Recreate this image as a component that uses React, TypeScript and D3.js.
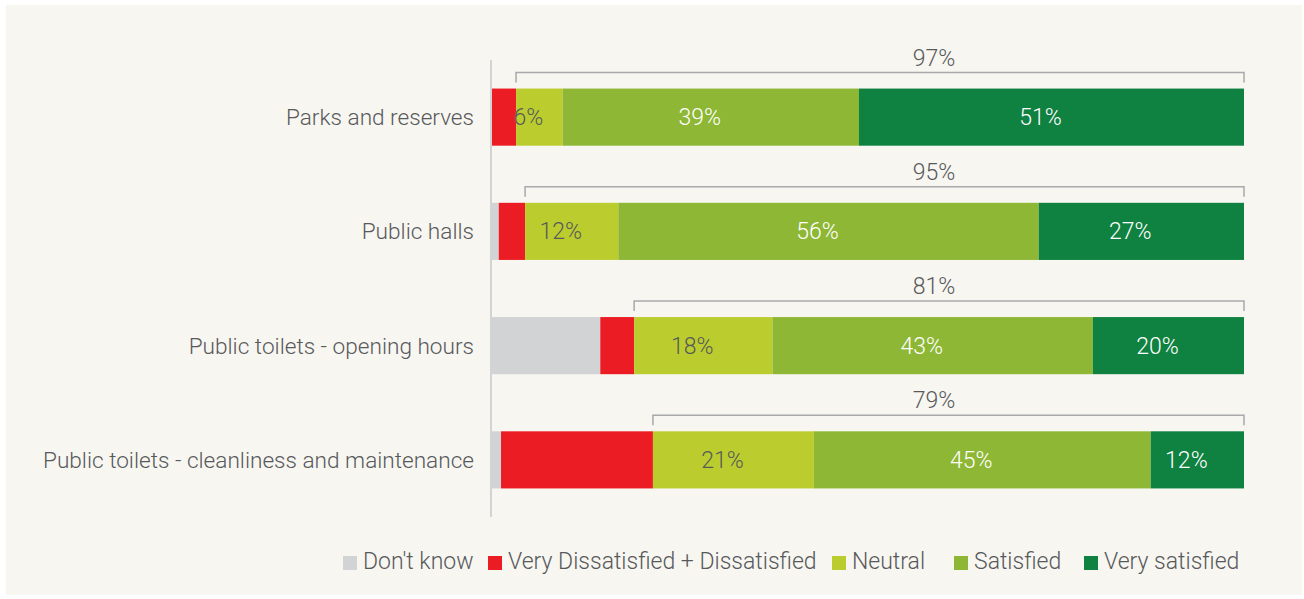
import React, { useEffect, useRef } from "react";
import * as d3 from "d3";

const categories = [
  "Parks and reserves",
  "Public halls",
  "Public toilets - opening hours",
  "Public toilets - cleanliness and maintenance",
];
const seriesNames = ["Don't know", "Very Dissatisfied + Dissatisfied", "Neutral", "Satisfied", "Very satisfied"];
const dontKnow = [0, 0.9, 14.4, 1.2];
const dissatisfied = [3.2, 3.5, 4.5, 20.2];
const neutral = [6.2, 12.4, 18.4, 21.4];
const satisfied = [39.4, 55.9, 42.6, 44.8];
const verySatisfied = [51.2, 27.3, 20.1, 12.4];
const netSatisfied = [97, 95, 81, 79];

const colors = ["#d1d3d4", "#ec1c24", "#bbcd2e", "#8db734", "#0f8140"];
const labelColors = [null, null, "#58595b", "#ffffff", "#ffffff"];
const legendX = [343, 488, 832, 954, 1084];
const FONT = "Roboto, 'Open Sans', sans-serif";
const TEXT = "#58595b";

export default function App() {
  const ref = useRef<SVGSVGElement | null>(null);

  useEffect(() => {
    const svg = d3.select(ref.current);
    svg.selectAll("*").remove();
    const W = 1304, H = 599;

    svg.append("rect").attr("x", 0).attr("y", 0).attr("width", W).attr("height", H).attr("fill", "#ffffff");
    svg.append("rect").attr("x", 6).attr("y", 5).attr("width", 1296).attr("height", 590).attr("fill", "#f7f6f1");

    const x = d3.scaleLinear().domain([0, 100]).range([492, 1244]);
    const y = d3.scaleBand<string>().domain(categories).range([60, 517]).paddingInner(0.5).paddingOuter(0.25);

    const series = [dontKnow, dissatisfied, neutral, satisfied, verySatisfied];
    const rows = categories.map((c, i) => {
      const r: any = { cat: c };
      seriesNames.forEach((s, k) => (r[s] = series[k][i]));
      return r;
    });
    const stacked = d3.stack<any>().keys(seriesNames)(rows);

    const g = svg.append("g");
    stacked.forEach((layer, k) => {
      g.selectAll(null)
        .data(layer)
        .enter()
        .append("rect")
        .attr("x", (d) => x(d[0]))
        .attr("y", (d) => y(d.data.cat)!)
        .attr("width", (d) => Math.max(0, x(d[1]) - x(d[0])))
        .attr("height", y.bandwidth())
        .attr("fill", colors[k]);
      if (labelColors[k]) {
        g.selectAll(null)
          .data(layer)
          .enter()
          .append("text")
          .attr("x", (d) => (x(d[0]) + x(d[1])) / 2 - 11)
          .attr("y", (d) => y(d.data.cat)! + y.bandwidth() / 2)
          .attr("dy", "0.35em")
          .attr("text-anchor", "middle")
          .attr("font-family", FONT)
          .attr("font-weight", 300)
          .attr("font-size", 23)
          .attr("fill", labelColors[k] as string)
          .text((d) => `${Math.round((d[1] - d[0]) + 1e-9)}%`);
      }
    });

    // axis line
    svg.append("line").attr("x1", 491).attr("x2", 491).attr("y1", 60).attr("y2", 517)
      .attr("stroke", "#d1d3d4").attr("stroke-width", 2);

    // category labels
    svg.selectAll(null).data(categories).enter().append("text")
      .attr("x", 474)
      .attr("y", (d) => y(d)! + y.bandwidth() / 2)
      .attr("dy", "0.35em")
      .attr("text-anchor", "end")
      .attr("font-family", FONT)
      .attr("font-weight", 300)
      .attr("font-size", 22.6)
      .attr("fill", TEXT)
      .text((d) => d);

    // brackets
    categories.forEach((c, i) => {
      const top = y(c)!;
      const x0 = x(dontKnow[i] + dissatisfied[i]);
      const x1 = x(100);
      const by = top - 16;
      svg.append("path")
        .attr("d", `M${x0},${top - 6}V${by}H${x1}V${top - 6}`)
        .attr("fill", "none")
        .attr("stroke", "#a7a9ac")
        .attr("stroke-width", 1.5);
      svg.append("text")
        .attr("x", 934)
        .attr("y", top - 23)
        .attr("text-anchor", "middle")
        .attr("font-family", FONT)
        .attr("font-weight", 300)
        .attr("font-size", 23)
        .attr("fill", TEXT)
        .text(`${netSatisfied[i]}%`);
    });

    // legend
    const lg = svg.append("g");
    seriesNames.forEach((s, k) => {
      lg.append("rect").attr("x", legendX[k]).attr("y", 556).attr("width", 14).attr("height", 14).attr("fill", colors[k]);
      lg.append("text")
        .attr("x", legendX[k] + 20)
        .attr("y", 569)
        .attr("font-family", FONT)
        .attr("font-weight", 300)
        .attr("font-size", 23)
        .attr("fill", TEXT)
        .text(s);
    });
  }, []);

  return <svg ref={ref} width={1304} height={599} style={{ display: "block", position: "absolute", left: 0, top: 0 }} />;
}
